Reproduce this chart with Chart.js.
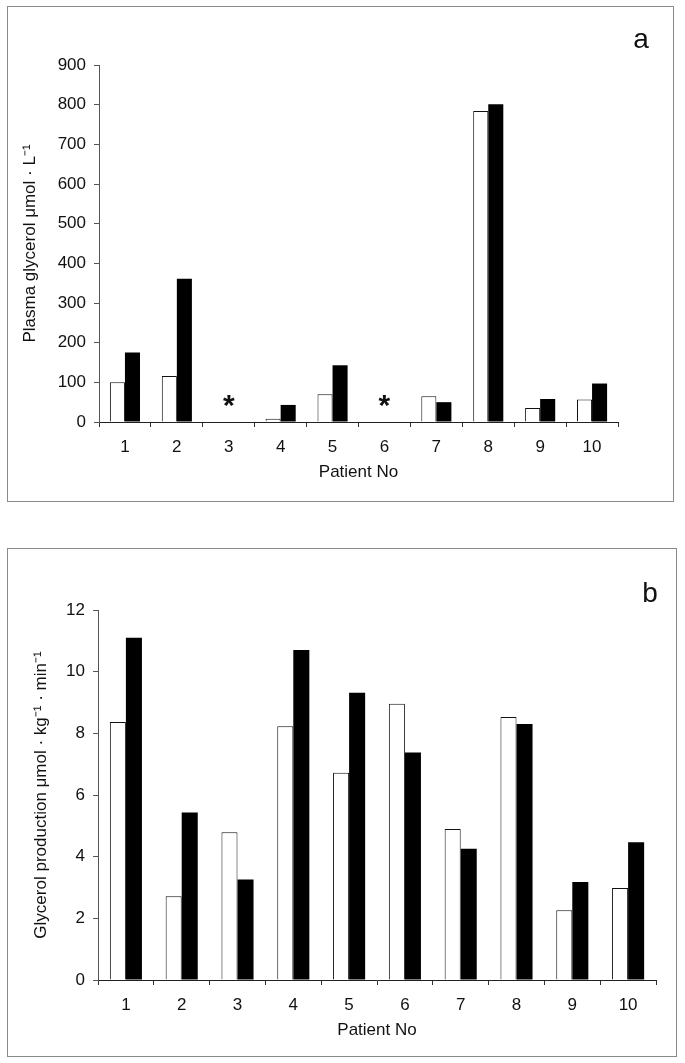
<!DOCTYPE html>
<html>
<head>
<meta charset="utf-8">
<script src="https://cdn.jsdelivr.net/npm/chart.js@4/dist/chart.umd.min.js"></script>
<style>
    body { margin: 0; background: #fff; }
    #page { position: relative; width: 685px; height: 1063px; }
    canvas { position: absolute; left: 0; }
    .frame { position: absolute; border: 1px solid #8a8a8a; pointer-events: none; }
</style>
</head>
<body>
<div id="page">
    <canvas id="chart-a" width="685" height="510" style="top:0"></canvas>
    <canvas id="chart-b" width="685" height="543" style="top:520px"></canvas>
    <div class="frame" style="left:7px; top:6px; width:665px; height:494px"></div>
    <div class="frame" style="left:7px; top:548px; width:668px; height:507px"></div>
</div>
<script>
// Patients on the x axis
const patients = ['1', '2', '3', '4', '5', '6', '7', '8', '9', '10'];

// Panel a: plasma glycerol (umol/L), open and filled bars
const glycerolOpen = [100, 116, null, 8, 70, null, 65, 784, 35, 57];
const glycerolFilled = [175, 361, null, 43, 143, null, 50, 801, 58, 97];
// patients with no value, marked with an asterisk
const missingPatients = ['3', '6'];
const missingMarkValue = 60;

// Panel b: glycerol production (umol/kg/min)
const productionOpen = [8.37, 2.72, 4.79, 8.23, 6.72, 8.96, 4.9, 8.53, 2.26, 2.98];
const productionFilled = [11.1, 5.43, 3.26, 10.7, 9.32, 7.38, 4.26, 8.3, 3.18, 4.47];

const FONT = "'Liberation Sans', Arial, sans-serif";
Chart.defaults.font.family = FONT;
Chart.defaults.color = '#111';

// Draws the panel letter and the asterisks for missing values
function panelDecor(letter, lx, ly, missing, markValue) {
    return {
        id: 'decor',
        afterDraw(chart) {
            const ctx = chart.ctx;
            ctx.save();
            ctx.fillStyle = '#111';
            ctx.textAlign = 'center';
            ctx.textBaseline = 'alphabetic';
            ctx.font = '28px ' + FONT;
            ctx.fillText(letter, lx, ly);
            if (missing.length) {
                const size = 30;
                ctx.font = 'bold ' + size + 'px ' + FONT;
                missing.forEach(function (p) {
                    const x = chart.scales.x.getPixelForValue(patients.indexOf(p));
                    const y = chart.scales.y.getPixelForValue(markValue);
                    ctx.fillText('*', x, y + size * 0.57);
                });
            }
            ctx.restore();
        }
    };
}

function makeChart(id, openData, filledData, yOpts, layout, decor) {
    const ctx = document.getElementById(id).getContext('2d');
    return new Chart(ctx, {
        type: 'bar',
        data: {
            labels: patients,
            datasets: [{
                data: openData,
                backgroundColor: '#ffffff',
                borderColor: '#111',
                borderWidth: 1,
                categoryPercentage: layout.cat,
                barPercentage: 1.0
            }, {
                data: filledData,
                backgroundColor: '#000000',
                borderColor: '#000000',
                borderWidth: 0,
                categoryPercentage: layout.cat,
                barPercentage: 1.0
            }]
        },
        options: {
            responsive: false,
            animation: false,
            layout: { padding: { left: 0, right: layout.right, top: layout.top, bottom: layout.bottom } },
            plugins: { legend: { display: false }, tooltip: { enabled: false } },
            scales: {
                x: {
                    grid: { display: true, drawOnChartArea: false, drawTicks: true, tickLength: 5, color: '#333', offset: true },
                    border: { display: true, color: '#222', width: 1 },
                    ticks: { font: { size: 17 }, padding: 10, color: '#111', maxRotation: 0 },
                    title: { display: true, text: 'Patient No', font: { size: 17 }, padding: { top: 0, bottom: 0 }, color: '#111' },
                    afterFit(scale) { scale.height = 61; }
                },
                y: {
                    min: yOpts.min,
                    max: yOpts.max,
                    grid: { display: true, drawOnChartArea: false, drawTicks: true, tickLength: 5, color: '#555' },
                    border: { display: true, color: '#555', width: 1 },
                    ticks: { stepSize: yOpts.step, font: { size: 17 }, padding: 8, color: '#111' },
                    title: { display: true, text: yOpts.title, font: { size: 17 }, padding: { top: yOpts.titlePad, bottom: 0 }, color: '#111' },
                    afterFit(scale) { scale.width = yOpts.width; }
                }
            }
        },
        plugins: [decor]
    });
}

makeChart('chart-a', glycerolOpen, glycerolFilled,
    { min: 0, max: 900, step: 100, width: 99, titlePad: 20, title: 'Plasma glycerol \u03bcmol \u00b7 L\u207b\u00b9' },
    { cat: 0.58, right: 67, top: 65, bottom: 27 },
    panelDecor('a', 641, 48, missingPatients, missingMarkValue));

makeChart('chart-b', productionOpen, productionFilled,
    { min: 0, max: 12, step: 2, width: 98, titlePad: 31, title: 'Glycerol production \u03bcmol \u00b7 kg\u207b\u00b9 \u00b7 min\u207b\u00b9' },
    { cat: 0.575, right: 29, top: 90, bottom: 22 },
    panelDecor('b', 650, 82, [], 0));
</script>
</body>
</html>
